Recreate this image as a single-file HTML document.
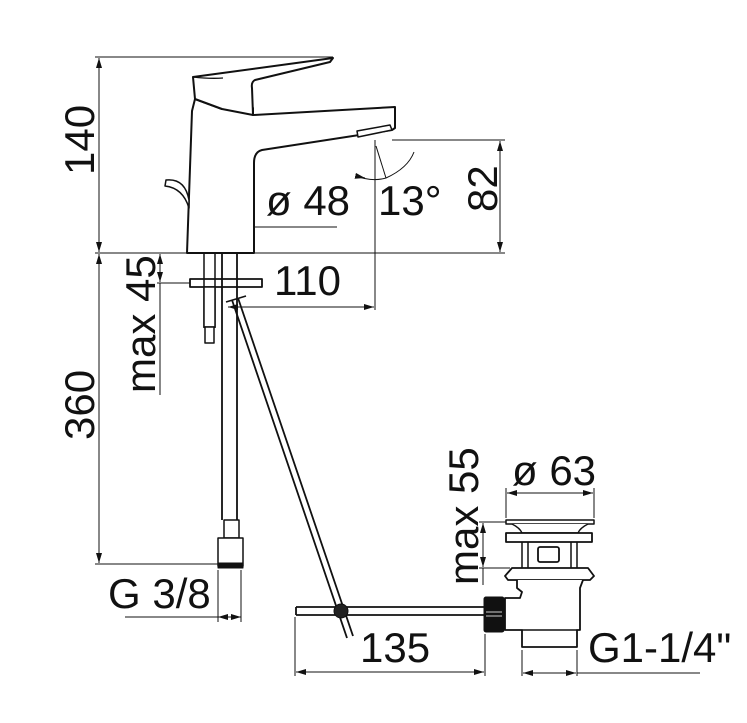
<!DOCTYPE html>
<html><head><meta charset="utf-8"><style>
html,body{margin:0;padding:0;background:#fff}
svg{display:block}
text{font-family:"Liberation Sans",sans-serif;fill:#111;font-size:42px}
</style></head><body>
<svg width="747" height="723" viewBox="0 0 747 723" xmlns="http://www.w3.org/2000/svg">
<defs>
<marker id="a" viewBox="0 0 10 6" refX="10" refY="3" markerWidth="10" markerHeight="6" orient="auto-start-reverse" markerUnits="userSpaceOnUse"><path d="M0,0L10,3L0,6z" fill="#111"/></marker>
</defs>
<g stroke="#111" fill="none" stroke-width="1">
<!-- 140 dims -->
<line x1="95" y1="57" x2="333" y2="57"/>
<line x1="99" y1="58" x2="99" y2="252" marker-start="url(#a)" marker-end="url(#a)"/>
<line x1="95" y1="253" x2="505" y2="253"/>
<!-- 360 -->
<line x1="99" y1="254" x2="99" y2="563" marker-start="url(#a)" marker-end="url(#a)"/>
<line x1="95" y1="564" x2="218" y2="564"/>
<!-- max 45 -->
<line x1="160" y1="254" x2="160" y2="282" marker-start="url(#a)" marker-end="url(#a)"/>
<line x1="157" y1="283" x2="190" y2="283"/>
<line x1="160" y1="283" x2="160" y2="395"/>
<!-- 48 -->
<line x1="189" y1="227" x2="253" y2="227" marker-start="url(#a)" marker-end="url(#a)"/>
<line x1="253" y1="227" x2="337" y2="227"/>
<!-- 110 -->
<line x1="228" y1="307" x2="374" y2="307" marker-start="url(#a)" marker-end="url(#a)"/>
<line x1="375" y1="140" x2="375" y2="310"/>
<!-- 13 deg -->
<line x1="376" y1="146" x2="386" y2="178"/>
<path d="M356,176 Q372,182 386,178 Q408,168 414,152" />
<path d="M356,176 L365,178" marker-end="url(#a)"/>
<!-- 82 -->
<line x1="392" y1="140" x2="505" y2="140"/>
<line x1="500" y1="141" x2="500" y2="252" marker-start="url(#a)" marker-end="url(#a)"/>
</g>
<!-- faucet -->
<g stroke="#111" fill="#fff" stroke-width="2" stroke-linejoin="round">
<path d="M192,111 L187,253 L254,253 L254,163 Q254,152 262,150 L392,130 L395,128 L395,107 L253,115 L253,108 L222,109 L195,99 Z"/>
<path d="M193,77 L333,58 L330,62 L255,80 Q251,82 252,88 L253,115 L222,109 L195,99 Z"/>
<path d="M193,77 Q210,79 223,78" fill="none" stroke-width="1.3"/>
<path d="M358,137 L392,130 L390,125 L357,131 Z" stroke-width="1.5"/>
<path d="M166,180 Q185,178 189,200 L189,208 Q183,188 165,186 Z" stroke-width="1.5"/>
<!-- plate and shanks -->
<rect x="190" y="279" width="72" height="8" stroke-width="1.8"/>
<path d="M204,253 L204,328 M215,253 L215,328" fill="none" stroke-width="1.5"/>
<rect x="204" y="287" width="11" height="40" stroke-width="1.5"/>
<rect x="205" y="327" width="9" height="16" stroke-width="1.5"/>
<path d="M222,253 L222,520 M237,253 L237,520" fill="none" stroke-width="1.8"/>
<rect x="224" y="520" width="15" height="18" stroke-width="1.5"/>
<rect x="218" y="538" width="25" height="28" stroke-width="1.5"/>
<rect x="218" y="563" width="25" height="5" fill="#111" stroke-width="1"/>
<!-- rod -->
<path d="M232,300 L347,638 M238,298 L353,636" fill="none" stroke-width="1.8"/>
<path d="M226,302 L246,296" fill="none" stroke-width="1.5"/>
<path d="M296,607 L488,607 M296,615 L488,615 M296,607 L296,615" fill="none" stroke-width="1.8"/>
<circle cx="341" cy="611" r="7" fill="#222" stroke-width="1"/>
<!-- drain -->
<rect x="506" y="520" width="88" height="4" stroke-width="1.5"/>
<path d="M512,524 Q520,528 522,533 L578,533 Q580,528 588,524" stroke-width="1.5"/>
<rect x="506" y="533" width="86" height="9" stroke-width="1.8"/>
<path d="M522,542 L522,568 M577,542 L577,568 M528,542 L528,568 M571,542 L571,568" stroke-width="1.5"/>
<rect x="538" y="547" width="21" height="15" rx="2" stroke-width="1.8"/>
<path d="M505,576 L512,568 L588,568 L594,576 L590,580 L508,580 Z" stroke-width="1.8"/>
<path d="M517,580 L517,588 L522,592 L520,598 L505,598 L505,630 L522,630 L522,647 L577,647 L577,630 L580,630 L580,588 L583,580" stroke-width="1.8"/>
<line x1="522" y1="630" x2="577" y2="630" stroke-width="1.5"/>
<rect x="484" y="597" width="20" height="35" rx="2" fill="#111" stroke-width="1"/>
</g>
<g stroke="#fff" stroke-width="0.8"><line x1="486" y1="612" x2="502" y2="612"/><line x1="486" y1="616" x2="502" y2="616"/></g>
<g stroke="#111" fill="none" stroke-width="1">
<!-- G3/8 -->
<line x1="218" y1="570" x2="218" y2="622"/><line x1="241" y1="570" x2="241" y2="622"/>
<line x1="125" y1="617" x2="218" y2="617"/>
<line x1="218" y1="617" x2="241" y2="617" marker-start="url(#a)" marker-end="url(#a)"/>
<!-- 135 -->
<line x1="295" y1="617" x2="295" y2="676"/><line x1="485" y1="634" x2="485" y2="676"/>
<line x1="296" y1="672" x2="484" y2="672" marker-start="url(#a)" marker-end="url(#a)"/>
<!-- 63 -->
<line x1="506" y1="488" x2="506" y2="518"/><line x1="594" y1="488" x2="594" y2="518"/>
<line x1="507" y1="493" x2="593" y2="493" marker-start="url(#a)" marker-end="url(#a)"/>
<!-- max55 -->
<line x1="479" y1="522" x2="506" y2="522"/><line x1="479" y1="568" x2="510" y2="568"/>
<line x1="483" y1="523" x2="483" y2="567" marker-start="url(#a)" marker-end="url(#a)"/>
<line x1="483" y1="568" x2="483" y2="585"/>
<!-- G1-1/4 -->
<line x1="522" y1="650" x2="522" y2="676"/><line x1="577" y1="650" x2="577" y2="676"/>
<line x1="523" y1="673" x2="576" y2="673" marker-start="url(#a)" marker-end="url(#a)"/>
<line x1="577" y1="673" x2="700" y2="673"/>
</g>
<text transform="translate(94,175) rotate(-90)">140</text>
<text transform="translate(94,440) rotate(-90)">360</text>
<text transform="translate(155,393) rotate(-90)">max 45</text>
<text transform="translate(497,212) rotate(-90)">82</text>
<text transform="translate(478,585) rotate(-90)">max 55</text>
<text x="266" y="215">ø 48</text>
<text x="378" y="215">13°</text>
<text x="274" y="295">110</text>
<text x="108" y="608">G 3/8</text>
<text x="360" y="662">135</text>
<text x="512" y="485">ø 63</text>
<text x="588" y="662">G1-1/4"</text>
</svg>
</body></html>
